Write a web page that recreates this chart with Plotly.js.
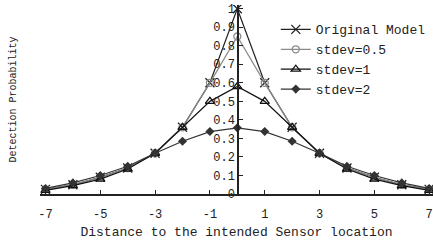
<!DOCTYPE html>
<html><head><meta charset="utf-8">
<script src="https://cdn.plot.ly/plotly-3.0.1.min.js"></script>
<style>html,body{margin:0;padding:0;background:#fff}#chart{width:433px;height:240px}</style>
</head><body><div id="chart"></div>
<script>
var distance = [-7,-6,-5,-4,-3,-2,-1,0,1,2,3,4,5,6,7];
var originalModel = [0.025,0.05,0.09,0.14,0.22,0.36,0.6,1.0,0.6,0.36,0.22,0.14,0.09,0.05,0.025];
var stdev05 = [0.025,0.05,0.09,0.14,0.22,0.36,0.6,0.85,0.6,0.36,0.22,0.14,0.09,0.05,0.025];
var stdev1 = [0.02,0.045,0.08,0.135,0.22,0.36,0.5,0.58,0.5,0.36,0.22,0.135,0.08,0.045,0.02];
var stdev2 = [0.03,0.06,0.1,0.15,0.22,0.285,0.337,0.357,0.337,0.285,0.22,0.15,0.1,0.06,0.03];
var xTicks = [-7,-5,-3,-1,1,3,5,7];
var yTicks = [0,0.1,0.2,0.3,0.4,0.5,0.6,0.7,0.8,0.9,1];
var names = ['Original Model','stdev=0.5','stdev=1','stdev=2'];

var FONT = "'Liberation Mono', 'Courier New', monospace";
var xr = [-7.2, 7.14];
var traces = [
  {x: distance, y: originalModel, name: names[0], mode: 'lines+markers',
   line: {color: '#222', width: 1.2},
   marker: {symbol: 'x-thin-open', size: 9, color: '#222', line: {color: '#222', width: 1.3}}},
  {x: distance, y: stdev05, name: names[1], mode: 'lines+markers',
   line: {color: '#8a8a8a', width: 1.2},
   marker: {symbol: 'circle-open', size: 7, color: '#8a8a8a', line: {color: '#8a8a8a', width: 1.3}}},
  {x: distance, y: stdev1, name: names[2], mode: 'lines+markers',
   line: {color: '#111', width: 1.2},
   marker: {symbol: 'triangle-up-open', size: 8, color: '#111', line: {color: '#111', width: 1.3}}},
  {x: distance, y: stdev2, name: names[3], mode: 'lines+markers',
   line: {color: '#333', width: 1.2},
   marker: {symbol: 'diamond', size: 7, color: '#333', line: {width: 0}}}
];
var layout = {
  width: 433, height: 240,
  margin: {l: 40, r: 0, t: 5, b: 46},
  paper_bgcolor: '#fff', plot_bgcolor: '#fff',
  font: {family: FONT, size: 12, color: '#222'},
  showlegend: true,
  legend: {x: 0.6, y: 0.95, xanchor: 'left', yanchor: 'top', bgcolor: 'rgba(0,0,0,0)',
           font: {family: FONT, size: 13, color: '#222'}, tracegroupgap: 0},
  xaxis: {range: xr, tickvals: xTicks, ticktext: xTicks.map(String),
          showgrid: false, zeroline: false, showline: true, linecolor: '#222', linewidth: 1.5,
          ticks: 'inside', ticklen: 4, tickcolor: '#222', ticklabelstandoff: 8,
          ticklabeloverflow: 'allow',
          tickfont: {family: FONT, size: 12, color: '#222'},
          title: {text: 'Distance to the intended Sensor location', font: {family: FONT, size: 13, color: '#222'}, standoff: 6}},
  yaxis: {range: [0, 1.02], tickvals: yTicks, ticktext: yTicks.map(String),
          anchor: 'free', position: (0 - xr[0]) / (xr[1] - xr[0]),
          showgrid: false, zeroline: false, showline: true, linecolor: '#222', linewidth: 1.5,
          ticks: 'inside', ticklen: 4, tickcolor: '#222',
          tickfont: {family: FONT, size: 12, color: '#222'},
          title: {text: 'Detection Probability', font: {family: FONT, size: 10, color: '#222'}, standoff: 193}}
};
Plotly.newPlot('chart', traces, layout, {staticPlot: true, displayModeBar: false});
</script></body></html>
